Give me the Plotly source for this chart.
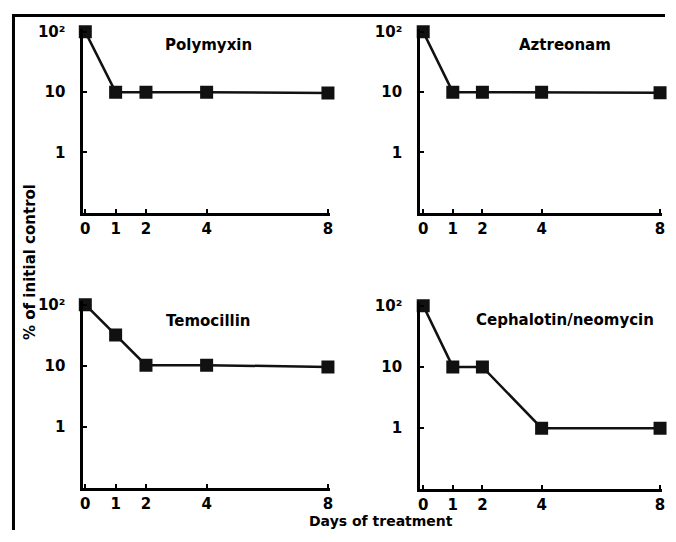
import plotly.graph_objects as go

days = [0, 1, 2, 4, 8]
panel_names = ["Polymyxin", "Aztreonam", "Temocillin", "Cephalotin/neomycin"]
polymyxin = [100, 10, 10, 10, 9.7]
aztreonam = [100, 10, 10, 10, 9.8]
temocillin = [100, 32, 10.3, 10.3, 9.6]
cephalotin = [100, 10, 10, 1, 1]
series = [polymyxin, aztreonam, temocillin, cephalotin]
x_ticks = [0, 1, 2, 4, 8]
y_tickvals = [1, 10, 100]
y_ticktext = ["1", "10", "10²"]

# page offset compensation (default body margin of the html page)
OX, OY = 8, 12
W, H = 676 - 2 * 8, 542 - OY - 8
FONT = "DejaVu Sans"

def px_x(p):
    return min(max((p - OX) / W, 0.0), 1.0)

def px_y(p):
    return min(max(1 - (p - OY) / H, 0.0), 1.0)

panels = [
    ((81, 330), (27, 213), [-0.065, 8.07], [-1.0, 2.05]),
    ((421, 665), (27, 213), [-0.10, 8.067], [-1.0, 2.05]),
    ((81, 330), (302, 492), [-0.065, 8.07], [-1.0, 2.065]),
    ((421, 665), (303, 493), [-0.10, 8.067], [-1.0, 2.065]),
]
title_pos = [(207, 43), (567, 43), (207, 323), (567, 322)]

fig = go.Figure()
layout = dict(
    width=W, height=H,
    margin=dict(l=0, r=0, t=0, b=0),
    paper_bgcolor="white", plot_bgcolor="white",
    showlegend=False,
    font=dict(family=FONT, size=14, color="black"),
    hovermode=False,
)
annotations = []
for i, (name, vals) in enumerate(zip(panel_names, series)):
    n = "" if i == 0 else str(i + 1)
    (xl, xr), (yt, yb), xr_rng, yr_rng = panels[i]
    fig.add_trace(go.Scatter(
        x=days, y=vals, mode="lines+markers",
        line=dict(color="#111", width=2.5),
        marker=dict(symbol="square", size=11, color="#111",
                    line=dict(color="#111", width=2)),
        cliponaxis=False,
        xaxis="x" + n, yaxis="y" + n,
    ))
    layout["xaxis" + n] = dict(
        domain=[px_x(xl), px_x(xr)], range=xr_rng,
        anchor="y" + n, tickmode="array", tickvals=x_ticks,
        ticks="inside", ticklen=4, tickwidth=2, tickcolor="black",
        showline=True, linecolor="black", linewidth=3,
        showgrid=False, zeroline=False, ticklabelstandoff=0,
        ticklabeloverflow="allow",
        tickfont=dict(family=FONT, size=15, color="black", weight="bold"),
    )
    layout["yaxis" + n] = dict(
        domain=[px_y(yb), px_y(yt)], range=yr_rng, type="log",
        anchor="x" + n, tickmode="array", tickvals=y_tickvals, ticktext=y_ticktext,
        ticks="inside", ticklen=4, tickwidth=2, tickcolor="black",
        showline=True, linecolor="black", linewidth=3,
        showgrid=False, zeroline=False, ticklabelstandoff=12,
        ticklabeloverflow="allow",
        tickfont=dict(family=FONT, size=15, color="black", weight="bold"),
    )
    tx, ty = title_pos[i]
    annotations.append(dict(
        text="<b>%s</b>" % name, x=px_x(tx), y=px_y(ty), xref="paper", yref="paper",
        showarrow=False, xanchor="center", yanchor="middle",
        font=dict(family=FONT, size=15, color="black"),
    ))

annotations.append(dict(
    text="<b>Days of treatment</b>", x=px_x(381), y=0, xref="paper", yref="paper",
    showarrow=False, xanchor="center", yanchor="bottom", borderpad=0,
    font=dict(family=FONT, size=14, color="black"),
))
annotations.append(dict(
    text="<b>% of initial control</b>", x=px_x(27), y=px_y(263), xref="paper", yref="paper",
    showarrow=False, xanchor="center", yanchor="middle", textangle=-90,
    font=dict(family=FONT, size=15, color="black"),
))
layout["annotations"] = annotations
layout["shapes"] = [dict(
    type="path", xref="paper", yref="paper",
    path="M %f %f L %f %f L %f %f" % (px_x(10.5), px_y(534), px_x(10.5), px_y(13.5), px_x(668), px_y(13.5)),
    line=dict(color="black", width=3),
)]
fig.update_layout(**layout)
fig.write_html("out.html")
